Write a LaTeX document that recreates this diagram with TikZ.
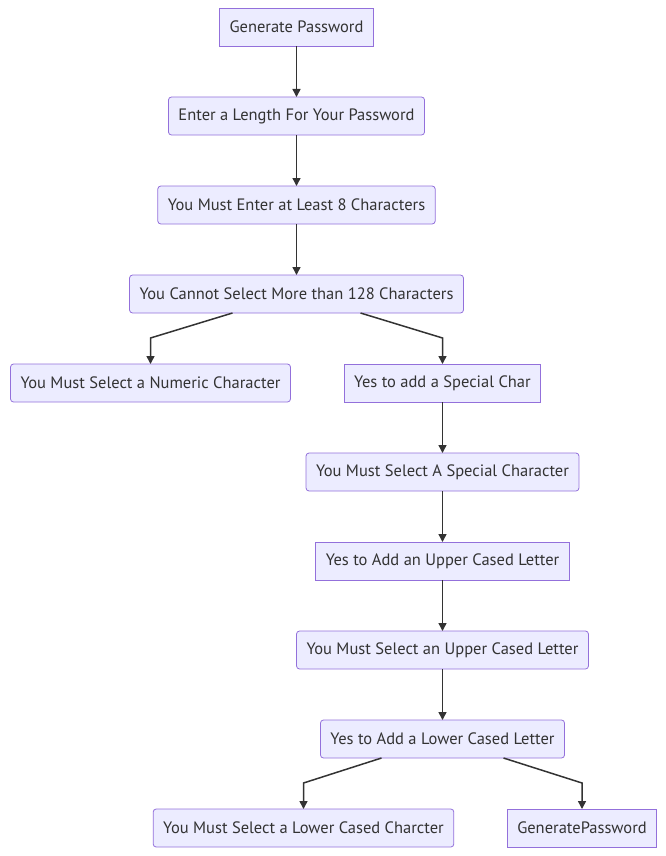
\documentclass[tikz,border=0pt]{standalone}
\usepackage{fontspec}
\setmainfont{PT Sans}
\usetikzlibrary{shapes,arrows.meta,positioning}
\definecolor{boxfill}{HTML}{ECECFF}
\definecolor{boxline}{HTML}{9370DB}
\definecolor{ink}{HTML}{333333}
\tikzstyle{Block} = [draw=boxline, fill=boxfill, line width=0.8pt, rectangle, rounded corners=3pt, minimum height=38pt, inner xsep=10pt, inner ysep=0pt, outer sep=0pt, text=ink, font=\fontsize{16.5}{19}\selectfont]
\tikzstyle{Square} = [Block, sharp corners]
\tikzstyle{Link} = [draw=ink, line width=1.5pt, ->]

\begin{document}
\begin{tikzpicture}[x=1pt, y=1pt, node distance=51pt, >={Triangle[length=8pt,width=8pt]}]
    \useasboundingbox (0,0) rectangle (666,-856);
    \node[Square] (start)       at (296.5,-27)                    {Generate Password};
    \node[Block]  (length)      [below=of start]                  {Enter a Length For Your Password};
    \node[Block]  (atleast)     [below=of length]                 {You Must Enter at Least 8 Characters};
    \node[Block]  (cannot)      [below=of atleast]                {You Cannot Select More than 128 Characters};
    \node[Block]  (numeric)     [below=of cannot, xshift=-146pt]  {You Must Select a Numeric Character};
    \node[Square] (special)     [below=of cannot, xshift=146pt]   {Yes to add a Special Char};
    \node[Block]  (mustspecial) [below=of special]                {You Must Select A Special Character};
    \node[Square] (upper)       [below=of mustspecial]            {Yes to Add an Upper Cased Letter};
    \node[Block]  (mustupper)   [below=of upper]                  {You Must Select an Upper Cased Letter};
    \node[Block]  (lower)       [below=of mustupper]              {Yes to Add a Lower Cased Letter};
    \node[Block]  (mustlower)   [below=of lower, xshift=-139pt]   {You Must Select a Lower Cased Charcter};
    \node[Square] (done)        [below=of lower, xshift=139.5pt]  {GeneratePassword};
    \draw[Link] (start)       -- (length);
    \draw[Link] (length)      -- (atleast);
    \draw[Link] (atleast)     -- (cannot);
    \draw[Link] ([xshift=-64pt]cannot.south) -- ([yshift=26pt]numeric.north) -- (numeric);
    \draw[Link] ([xshift=64pt]cannot.south)  -- ([yshift=26pt]special.north) -- (special);
    \draw[Link] (special)     -- (mustspecial);
    \draw[Link] (mustspecial) -- (upper);
    \draw[Link] (upper)       -- (mustupper);
    \draw[Link] (mustupper)   -- (lower);
    \draw[Link] ([xshift=-61pt]lower.south) -- ([yshift=26pt]mustlower.north) -- (mustlower);
    \draw[Link] ([xshift=61pt]lower.south)  -- ([yshift=26pt]done.north) -- (done);
\end{tikzpicture}
\end{document}
